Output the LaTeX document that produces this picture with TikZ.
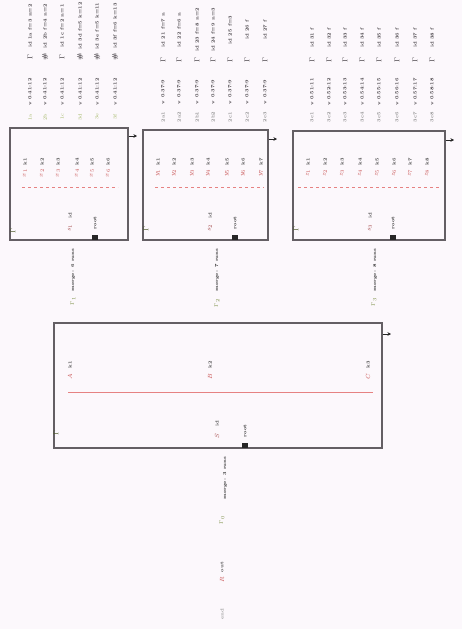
\documentclass[tikz,border=0pt]{standalone}
\usetikzlibrary{arrows.meta}
\definecolor{bgc}{RGB}{252,248,252}
\definecolor{boxc}{RGB}{100,95,100}
\definecolor{redc}{RGB}{200,80,80}
\definecolor{lredc}{RGB}{230,130,130}
\definecolor{grc}{RGB}{150,175,80}
\definecolor{txc}{RGB}{60,55,60}
\begin{document}
\begin{tikzpicture}[x=1pt,y=-1pt,
  tx/.style={font=\fontsize{4.6}{5}\selectfont\bfseries, rotate=90, inner sep=0.4pt, text=txc},
  gl/.style={font=\fontsize{7}{7}\selectfont\bfseries, rotate=90, inner sep=0.3pt, text=txc},
  lab/.style={font=\fontsize{4.6}{5}\selectfont, rotate=90, inner sep=0.4pt, text=grc},
  rl/.style={font=\fontsize{6.5}{7}\selectfont, rotate=90, inner sep=0.3pt, text=redc},
  bl/.style={font=\fontsize{4.6}{5}\selectfont\bfseries, rotate=90, inner sep=0.3pt, text=black!75},
  box/.style={draw=boxc, line width=1.2pt, inner sep=0pt},
  outarr/.style={-{Stealth[length=3.5pt,width=3.5pt]}, line width=0.9pt, black!85}
]
\useasboundingbox (0,0) rectangle (462,629);
\fill[bgc] (0,0) rectangle (462,629);

% ---------- top columns ----------
% group 1
\foreach \i/\x/\u/\g/\l in {1/30/id 1a f=3 n=2/$\Gamma$/1a,
                             2/45/id 2b f=4 n=2/\#/2b,
                             3/62/id 1c f=2 n=1/$\Gamma$/1c,
                             4/80/id 3d f=5 k=12/\#/3d,
                             5/97/id 3e f=5 k=11/\#/3e,
                             6/115/id 3f f=6 k=13/\#/3f}{
  \node[tx] (ua\i) at (\x,26) {\u};
  \node[gl] (ga\i) at (\x,57) {\g};
  \node[tx] (la\i) at (\x,92) {v 0.41:12};
  \node[lab] (ta\i) at (\x,117) {\l};
}
% group 2
\foreach \i/\x/\u/\l in {1/163/id 21 f=7 n/2a1,
                         2/179/id 22 f=6 n/2a2,
                         3/197/id 23 f=8 n=2/2b1,
                         4/213/id 24 f=9 n=3/2b2,
                         5/230/id 25 f=3/2c1,
                         6/247/id 26 f/2c2,
                         7/265/id 27 f/2c3}{
  \node[tx] (ub\i) at (\x,30) {\u};
  \node[gl] (gb\i) at (\x,60) {$\Gamma$};
  \node[tx] (lb\i) at (\x,92) {v 0.37:9};
  \node[tx, text=black!45] (tb\i) at (\x,117) {\l};
}
% group 3
\foreach \i/\x in {1/312,2/329,3/345,4/362,5/379,6/397,7/415,8/432}{
  \node[tx] (uc\i) at (\x,38) {id 3\i\ f};
  \node[gl] (gc\i) at (\x,60) {$\Gamma$};
  \node[tx] (lc\i) at (\x,92) {v 0.5\i:1\i};
  \node[tx, text=black!45] (tc\i) at (\x,117) {3c\i};
}

% ---------- boxes ----------
\node[box, minimum width=118pt, minimum height=112pt] (b1) at (69,184) {};
\node[box, minimum width=125pt, minimum height=110pt] (b2) at (205.5,185) {};
\node[box, minimum width=152pt, minimum height=109pt] (b3) at (369,185.5) {};
\node[box, minimum width=328pt, minimum height=125pt] (bb) at (218,385.5) {};

% output arrows
\coordinate (o1) at (137,136); \draw[outarr] (b1.east |- o1) -- (o1);
\coordinate (o2) at (277,139); \draw[outarr] (b2.east |- o2) -- (o2);
\coordinate (o3) at (454,140); \draw[outarr] (b3.east |- o3) -- (o3);
\coordinate (o4) at (391,334); \draw[outarr] (bb.east |- o4) -- (o4);

% red key rows
\foreach \i/\x in {1/25,2/42,3/58,4/77,5/92,6/108}{
  \node[bl] (ka\i) at (\x,162) {k\i};
  \node[rl] (ra\i) at (\x,173) {$x_{\i}$};
}
\foreach \i/\x in {1/158,2/174,3/192,4/208,5/227,6/243,7/261}{
  \node[bl] (kb\i) at (\x,162) {k\i};
  \node[rl] (rb\i) at (\x,173) {$y_{\i}$};
}
\foreach \i/\x in {1/308,2/325,3/342,4/360,5/377,6/394,7/410,8/427}{
  \node[bl] (kc\i) at (\x,162) {k\i};
  \node[rl] (rc\i) at (\x,173) {$z_{\i}$};
}
\foreach \i/\x/\n in {1/70/A,2/210/B,3/368/C}{
  \node[bl] (kd\i) at (\x,365) {k\i};
  \node[rl] (rd\i) at (\x,377) {$\n$};
}

% separators
\coordinate (s1a) at (22,187); \coordinate (s1b) at (118,187);
\coordinate (s2a) at (155,187); \coordinate (s2b) at (264,187);
\coordinate (s3a) at (298,187); \coordinate (s3b) at (441,187);
\coordinate (s4a) at (68,392); \coordinate (s4b) at (373,392);
\draw[lredc, dashed, line width=0.6pt] (s1a) -- (s1b);
\draw[lredc, dashed, line width=0.6pt] (s2a) -- (s2b);
\draw[lredc, dashed, line width=0.6pt] (s3a) -- (s3b);
\draw[lredc, line width=0.8pt] (s4a) -- (s4b);

% bottom labels in boxes
\foreach \n/\x/\m/\y/\t in {1/70/95/240/$s_1$, 2/210/235/240/$s_2$, 3/370/393/240/$s_3$, 4/217/245/448/$S$}{
  \node[rl, text=redc!80!black] (rs\n) at (\x,\y-12) {\t};
  \node[bl] (rk\n) at (\x,\y-24) {id};
  \node[tx, text=black!85] (mt\n) at (\m,\y-17) {root};
  \node[fill=black!85, minimum width=6pt, minimum height=5pt, inner sep=0pt] (mk\n) at (\m,\y-2.5) {};
}
% left corner glyphs
\node[gl, text=grc!50!black] (lg1) at (13,231) {$\Gamma$};
\node[gl, text=grc!50!black] (lg2) at (146,229) {$\Gamma$};
\node[gl, text=grc!50!black] (lg3) at (296,229) {$\Gamma$};
\node[gl, text=grc!50!black] (lg4) at (56,433) {$\Gamma$};

% edges between levels
\node[tx, text=black!80] (e1) at (73,270) {merge: 6 runs};
\node[lab, text=grc!80!black] (el1) at (73,301) {$\Gamma_1$};
\node[tx, text=black!80] (e2) at (217,270) {merge: 7 runs};
\node[lab, text=grc!80!black] (el2) at (217,303) {$\Gamma_2$};
\node[tx, text=black!80] (e3) at (375,270) {merge: 8 runs};
\node[lab, text=grc!80!black] (el3) at (374,302) {$\Gamma_3$};

\node[tx, text=black!80] (e4) at (225,478) {merge: 3 runs};
\node[lab, text=grc!80!black] (el4) at (222,520) {$\Gamma_0$};
\node[bl] (fk) at (222,567) {out};
\node[rl] (fr) at (222,580) {$R$};
\node[tx, text=black!40] (fe) at (222,614) {end};
\end{tikzpicture}
\end{document}
